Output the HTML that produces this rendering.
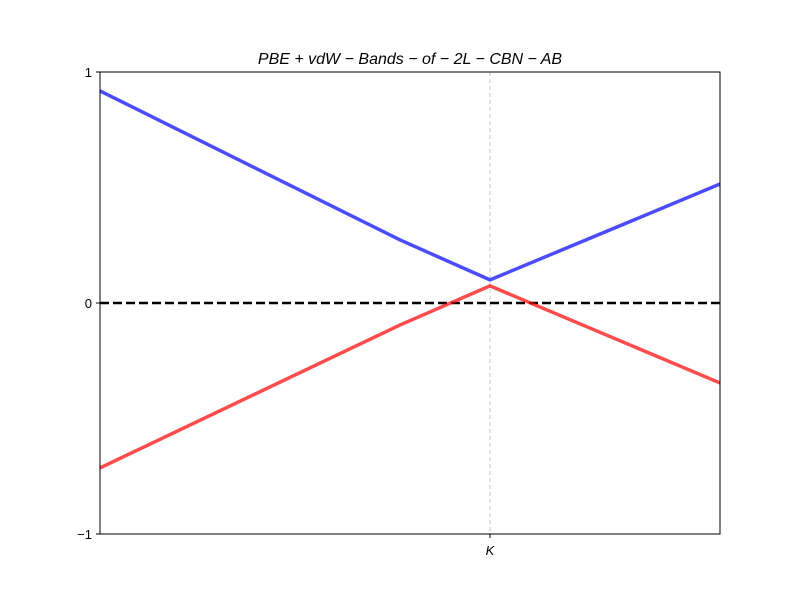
<!DOCTYPE html>
<html><head><meta charset="utf-8"><style>
body{margin:0;background:#fff}
svg text{font-family:"Liberation Sans","DejaVu Sans",sans-serif}
</style></head><body>
<svg id="chart" width="800" height="600" xmlns="http://www.w3.org/2000/svg">
<rect width="800" height="600" fill="#fff"/>
<text x="410" y="64" text-anchor="middle" font-size="16" font-style="italic">PBE + vdW − Bands − of − 2L − CBN − AB</text>
<g id="plot"></g>
</svg>
<script>
const kpathX = [0, 0.484, 0.629, 1];
const conductionBand = [0.918, 0.273, 0.10, 0.515];
const valenceBand = [-0.714, -0.095, 0.074, -0.346];
const yTicks = [-1, 0, 1];
const yTickLabels = ["\u22121", "0", "1"];
const kPoints = [0.629];
const kLabels = ["K"];

const L=100,R=720,T=72,B=534;
const sx=v=>L+v*(R-L);
const sy=v=>T+(1-v)/2*(B-T);
const ns="http://www.w3.org/2000/svg";
const g=document.getElementById('plot');
function mk(tag,attrs){const e=document.createElementNS(ns,tag);for(const k in attrs)e.setAttribute(k,attrs[k]);g.appendChild(e);return e;}

kPoints.forEach((k,i)=>{
  const l=mk('line',{x1:sx(k),x2:sx(k),y1:T,y2:B,stroke:'#c8c8c8','stroke-width':1,'stroke-dasharray':'4,3'});
  
  
  const t=mk('line',{x1:sx(k),x2:sx(k),y1:B,y2:B+4,stroke:'#000'});
  
  
  const tx=mk('text',{x:sx(k),y:B+21,'text-anchor':'middle','font-size':13,'font-style':'italic'});
  tx.textContent=kLabels[i];
  
  
});
const z=mk('line',{x1:L,x2:R,y1:sy(0),y2:sy(0),stroke:'#000','stroke-width':2.5,'stroke-dasharray':'9,4'});


function band(vals,color,name){
  const p=mk('polyline',{points:vals.map((v,i)=>sx(kpathX[i])+','+sy(v)).join(' '),fill:'none',stroke:color,'stroke-width':3.5,opacity:0.7,'stroke-linejoin':'round'});
  
  
}
band(conductionBand,'#0000ff','conduction-band');
band(valenceBand,'#ff0000','valence-band');
yTicks.forEach((v,i)=>{
  const t=mk('line',{x1:L-4,x2:L,y1:sy(v),y2:sy(v),stroke:'#000'});
  
  
  const tx=mk('text',{x:L-8,y:sy(v)+5,'text-anchor':'end','font-size':13});
  tx.textContent=yTickLabels[i];
  
  
});
const f=mk('rect',{x:L,y:T,width:R-L,height:B-T,fill:'none',stroke:'#000','stroke-width':1});


</script>
</body></html>
